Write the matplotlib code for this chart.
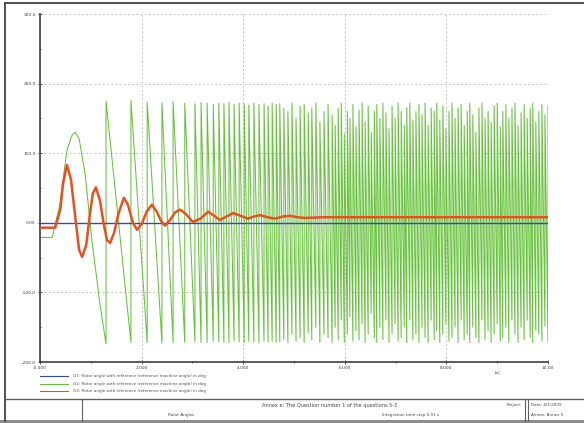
import numpy as np
import matplotlib.pyplot as plt
from matplotlib.lines import Line2D
from matplotlib.patches import Rectangle

W, H = 584, 423

# rotor angles in deg, time in s
blue_t = [0.0, 10.0]
blue_v = [0.0, 0.0]

red_t = [0.00, 0.30, 0.40, 0.45, 0.53, 0.61, 0.69, 0.77, 0.83, 0.91, 0.98, 1.04, 1.10,
         1.18, 1.26, 1.32, 1.38, 1.46, 1.54, 1.65, 1.73, 1.83, 1.91, 2.00, 2.10, 2.20,
         2.30, 2.38, 2.46, 2.56, 2.66, 2.76, 2.88, 3.01, 3.16, 3.31, 3.43, 3.54, 3.67,
         3.80, 3.95, 4.09, 4.21, 4.33, 4.48, 4.63, 4.78, 4.92, 5.07, 5.22, 5.60, 10.0]
red_v = [-7, -7, 19, 55, 83, 62, 11, -39, -49, -32, 11, 42, 51,
         32, -4, -25, -29, -14, 12, 36, 26, 0, -10, -2, 16, 26,
         16, 3, -4, 4, 15, 19, 12, 1, 6, 16, 10, 4, 9,
         14, 10, 6, 9, 11, 8, 6, 9, 10, 8, 7, 8, 8]

# machine 2 before the first pole slip
green_t = [0.00, 0.24, 0.39, 0.53, 0.63, 0.69, 0.77, 0.89, 1.02, 1.18]
green_v = [-21, -21, 26, 104, 126, 130, 121, 69, -24, -117]

# times where the angle wraps from -180 to +180 deg
slip_t = [1.30, 1.79, 2.11, 2.40, 2.62, 2.85, 3.05,
          3.17, 3.29, 3.41, 3.52, 3.62, 3.72, 3.82, 3.92, 4.02, 4.11,
          4.21, 4.31, 4.41, 4.49, 4.57, 4.65, 4.72, 4.80, 4.88, 4.96,
          5.04, 5.12, 5.20, 5.28, 5.35, 5.43, 5.51, 5.59, 5.67, 5.75,
          5.81, 5.87, 5.93, 5.99, 6.05, 6.10, 6.16, 6.22, 6.28, 6.34,
          6.40, 6.46, 6.52, 6.58, 6.63, 6.69, 6.75, 6.81, 6.87, 6.93,
          6.99, 7.05, 7.11, 7.17, 7.22, 7.28, 7.34, 7.40, 7.46, 7.52,
          7.58, 7.64, 7.70, 7.76, 7.81, 7.87, 7.93, 7.99, 8.05, 8.11,
          8.17, 8.23, 8.29, 8.35, 8.41, 8.46, 8.52, 8.58, 8.64, 8.70,
          8.76, 8.82, 8.88, 8.94, 9.00, 9.06, 9.11, 9.17, 9.23, 9.29,
          9.35, 9.41, 9.47, 9.53, 9.59, 9.65, 9.70, 9.76, 9.82, 9.88,
          9.94, 10.00]
slip_top = [175, 176, 173, 172, 174, 172, 171,
            173, 172, 170, 172, 171, 173, 170, 172, 171, 169,
            172, 170, 171, 168, 172, 170, 171, 165, 160, 172,
            150, 168, 170, 158, 165, 172, 145, 160, 170, 155,
            140, 165, 172, 128, 160, 150, 170, 138, 162, 172,
            145, 168, 130, 160, 170, 150, 172, 158, 135, 168,
            150, 172, 160, 140, 165, 172, 148, 160, 170, 155,
            172, 140, 165, 160, 172, 148, 168, 135, 160, 172,
            150, 165, 170, 140, 160, 172, 155, 130, 165, 172,
            150, 160, 145, 168, 172, 138, 160, 170, 150, 165,
            172, 140, 158, 170, 150, 165, 172, 145, 160, 170,
            155, 168]
slip_bot = [-174, -172, -172, -173, -172, -172, -171,
            -172, -172, -170, -171, -172, -172, -170, -171, -172, -170,
            -171, -172, -170, -171, -170, -172, -171, -168, -172, -160,
            -170, -165, -172, -158, -168, -150, -172, -160, -165, -172,
            -150, -168, -140, -172, -160, -135, -170, -155, -168, -145,
            -172, -160, -130, -165, -172, -150, -168, -140, -172, -160,
            -145, -170, -165, -150, -172, -140, -168, -160, -172, -150,
            -165, -172, -140, -168, -155, -172, -160, -145, -170, -165,
            -150, -172, -140, -168, -160, -172, -150, -165, -172, -140,
            -168, -155, -172, -160, -145, -170, -165, -150, -172, -140,
            -160, -172, -150, -168, -140, -165, -172, -155, -160, -170,
            -148, -172]

for t, top, bot in zip(slip_t, slip_top, slip_bot):
    green_t += [t, t]
    green_v += [bot, top]

legend_labels = [
    'G1: Rotor angle with reference (reference machine angle) in deg',
    'G2: Rotor angle with reference (reference machine angle) in deg',
    'G3: Rotor angle with reference (reference machine angle) in deg',
]

fig = plt.figure(figsize=(W / 100, H / 100), dpi=100)
ax = fig.add_axes([40 / W, 1 - 362 / H, 508 / W, 348 / H])

ax.plot(blue_t, blue_v, color='#2f47c8', lw=1.0, zorder=3)
ax.plot(green_t, green_v, color='#66c23c', lw=0.75, zorder=2)
ax.plot(red_t, red_v, color='#e8501e', lw=1.8, zorder=4)

ax.set_xlim(0, 10)
ax.set_ylim(-200, 300)
ax.set_xticks([0, 2, 4, 6, 8, 10])
ax.set_xticklabels(['-0.000', '2.000', '4.000', '6.000', '8.000', '10.00'])
ax.set_xticks([1, 3, 5, 7, 9], minor=True)
ax.set_yticks([-200, -100, 0, 100, 200, 300])
ax.set_yticklabels(['-200.0', '-100.0', '0.00', '100.0', '200.0', '300.0'])
ax.set_yticks(np.arange(-150, 300, 100), minor=True)
ax.tick_params(which='both', direction='inout', labelsize=3.2, colors='#404040',
               length=3, width=0.6, pad=1.5)
ax.tick_params(which='minor', length=2)
ax.grid(True, which='major', color='#b0b0b0', ls=(0, (2, 3)), lw=0.6)
for side in ['top', 'right']:
    ax.spines[side].set_visible(False)
for side in ['left', 'bottom']:
    ax.spines[side].set_color('#404040')
    ax.spines[side].set_linewidth(1.2)
ax.text(9.0, -212, '[s]', fontsize=3.2, color='#404040', ha='center', va='top')

# legend rows under the x axis
for i, (c, lab) in enumerate(zip(['#2f47c8', '#66c23c', '#e8501e'], legend_labels)):
    y = 1 - (376 + 7.5 * i) / H
    fig.add_artist(Line2D([40 / W, 68 / W], [y, y], color=c, lw=0.8))
    fig.text(73 / W, y, lab, fontsize=3.0, color='#505050', va='center')

# drawing frame and title block
def hline(y, x0, x1, lw=0.8, c='#606060'):
    fig.add_artist(Line2D([x0 / W, x1 / W], [1 - y / H, 1 - y / H], color=c, lw=lw))

def vline(x, y0, y1, lw=0.8, c='#606060'):
    fig.add_artist(Line2D([x / W, x / W], [1 - y0 / H, 1 - y1 / H], color=c, lw=lw))

hline(3, 5, 584, lw=1.4, c='#505050')
vline(5, 3, 421, lw=1.4, c='#505050')
hline(399, 5, 584, lw=1.0)
vline(82, 399, 421)
vline(525, 399, 421)
vline(528, 399, 421)
fig.add_artist(Rectangle((0, 0), 1, 3 / H, color='#8c8c8c', lw=0))

fig.text(330 / W, 1 - 405 / H, 'Annex e: The Question number 1 of the questions 5-3',
         fontsize=3.6, color='#444444', ha='center', va='center')
fig.text(168 / W, 1 - 415 / H, 'Rotor Angles', fontsize=3.0, color='#444444', va='center')
fig.text(410 / W, 1 - 415 / H, 'Integration time step 0.01 s', fontsize=3.0,
         color='#444444', ha='center', va='center')
fig.text(522 / W, 1 - 405 / H, 'Project:', fontsize=3.0, color='#444444',
         ha='right', va='center')
fig.text(531 / W, 1 - 405 / H, 'Date: 4/1/2009', fontsize=3.0, color='#444444', va='center')
fig.text(531 / W, 1 - 415 / H, 'Annex: Annex 5', fontsize=3.0, color='#444444', va='center')

fig.savefig('out.png', dpi=100)
